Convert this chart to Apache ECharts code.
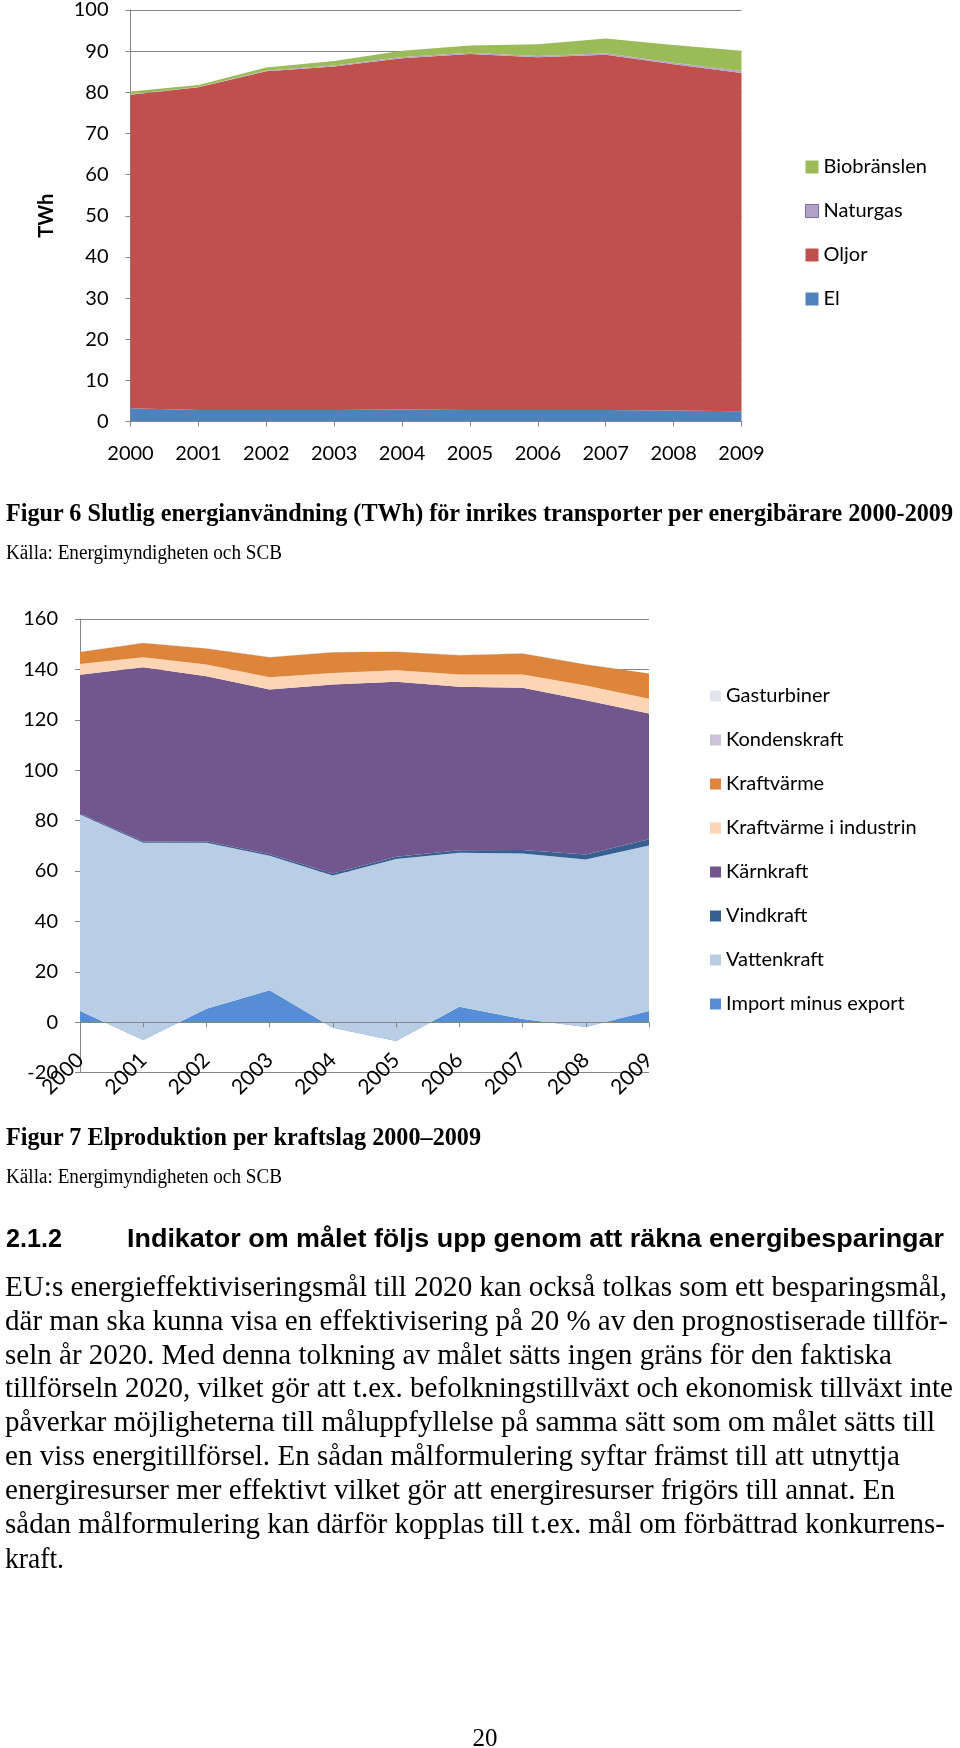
<!DOCTYPE html>
<html>
<head>
<meta charset="utf-8">
<script src="https://cdn.jsdelivr.net/npm/echarts@6/dist/echarts.min.js"></script>
<style>
  html, body { margin: 0; padding: 0; background: #fff; }
  #page { position: relative; width: 960px; height: 1748px; overflow: hidden; }
  #chart { position: absolute; left: 0; top: 0; width: 960px; height: 1748px; }
  .t { position: absolute; white-space: nowrap; line-height: 1; transform-origin: 0 0; color: #000; }
</style>
</head>
<body>
<div id="page">
  <div id="chart"></div>
</div>
<script>
// ---------- data ----------
const years = ['2000','2001','2002','2003','2004','2005','2006','2007','2008','2009'];

// Figur 6 (TWh)
const el        = [3.2, 2.8, 2.8, 2.8, 2.9, 2.8, 2.8, 2.8, 2.7, 2.5];
const oljor     = [76.2, 78.4, 82.3, 83.5, 85.4, 86.5, 85.7, 86.3, 84.1, 82.2];
const naturgas  = [0.1, 0.1, 0.2, 0.2, 0.3, 0.3, 0.3, 0.4, 0.4, 0.5];
const biobransl = [0.7, 0.5, 0.7, 1.1, 1.5, 1.8, 2.9, 3.6, 4.3, 4.9];

// Figur 7 (TWh)
const importExport = [4.4, -7.1, 5.3, 12.7, -2.2, -7.5, 6.1, 1.3, -1.9, 4.4];
const vattenkraft  = [78.0, 78.3, 65.9, 53.4, 60.4, 72.3, 61.1, 65.6, 66.5, 65.7];
const vindkraft    = [0.4, 0.5, 0.6, 0.5, 0.8, 0.9, 1.0, 1.4, 1.9, 2.5];
const karnkraft    = [55.1, 69.2, 65.5, 65.4, 75.0, 69.4, 64.9, 64.4, 61.3, 49.9];
const kvIndustri   = [4.2, 3.9, 4.6, 4.9, 4.6, 4.6, 4.9, 5.3, 5.8, 5.9];
const kraftvarme   = [4.8, 5.7, 6.4, 7.9, 8.2, 7.3, 7.6, 8.3, 8.3, 10.0];
const kondenskraft = [0.1, 0.1, 0.1, 0.1, 0.1, 0.1, 0.1, 0.1, 0.1, 0.1];
const gasturbiner  = [0.0, 0.0, 0.0, 0.0, 0.0, 0.0, 0.0, 0.0, 0.0, 0.0];

// tick labels
const yTicks1 = { min: 0, max: 100, interval: 10 };
const yTicks2 = { min: -20, max: 160, interval: 20 };

// ---------- texts ----------
const fig6Caption = 'Figur 6 Slutlig energianvändning (TWh) för inrikes transporter per energibärare 2000-2009';
const source = 'Källa: Energimyndigheten och SCB';
const fig7Caption = 'Figur 7 Elproduktion per kraftslag 2000–2009';
const headingNum = '2.1.2';
const headingText = 'Indikator om målet följs upp genom att räkna energibesparingar';
const bodyLines = [
  'EU:s energieffektiviseringsmål till 2020 kan också tolkas som ett besparingsmål,',
  'där man ska kunna visa en effektivisering på 20 % av den prognostiserade tillför-',
  'seln år 2020. Med denna tolkning av målet sätts ingen gräns för den faktiska',
  'tillförseln 2020, vilket gör att t.ex. befolkningstillväxt och ekonomisk tillväxt inte',
  'påverkar möjligheterna till måluppfyllelse på samma sätt som om målet sätts till',
  'en viss energitillförsel. En sådan målformulering syftar främst till att utnyttja',
  'energiresurser mer effektivt vilket gör att energiresurser frigörs till annat. En',
  'sådan målformulering kan därför kopplas till t.ex. mål om förbättrad konkurrens-',
  'kraft.'
];
const pageNumber = '20';

// ---------- chart ----------
const FONT = 'Lato, "Open Sans", sans-serif';
const AX = '#868686';

function area(name, data, color, grid, extra) {
  return Object.assign({
    name: name,
    type: 'line',
    xAxisIndex: grid, yAxisIndex: grid,
    data: data,
    stack: 's' + grid,
    stackStrategy: 'all',
    symbol: 'none',
    smooth: false,
    silent: true,
    lineStyle: { width: 0, color: color },
    itemStyle: { color: color },
    areaStyle: { color: color, opacity: 1 },
    emphasis: { disabled: true }
  }, extra || {});
}

const chart = echarts.init(document.getElementById('chart'), null, { renderer: 'canvas' });
const option = {
  animation: false,
  grid: [
    { left: 130.5, top: 9, width: 611, height: 412.5 },
    { left: 80, top: 619, width: 569, height: 453.6 }
  ],
  legend: [
    {
      orient: 'vertical', left: 800, top: 152, itemGap: 24,
      itemWidth: 13, itemHeight: 13, icon: 'rect',
      textStyle: { fontFamily: FONT, fontSize: 20, lineHeight: 20, color: '#000' },
      data: [
        { name: 'Biobränslen' },
        { name: 'Naturgas', itemStyle: { borderColor: '#7F6A9C', borderWidth: 1 } },
        { name: 'Oljor' },
        { name: 'El' }
      ],
      selectedMode: false
    },
    {
      orient: 'vertical', left: 705, top: 681, itemGap: 24,
      itemWidth: 11, itemHeight: 11, icon: 'rect',
      textStyle: { fontFamily: FONT, fontSize: 20, lineHeight: 20, color: '#000' },
      data: ['Gasturbiner', 'Kondenskraft', 'Kraftvärme', 'Kraftvärme i industrin',
             'Kärnkraft', 'Vindkraft', 'Vattenkraft', 'Import minus export'],
      selectedMode: false
    }
  ],
  xAxis: [
    {
      gridIndex: 0, type: 'category', data: years, boundaryGap: false, z: 5,
      axisLine: { lineStyle: { color: AX, width: 1 } },
      axisTick: { show: true, length: 5, lineStyle: { color: AX } },
      axisLabel: { fontFamily: FONT, fontSize: 20, color: '#000', margin: 22, interval: 0 },
      splitLine: { show: false }
    },
    {
      gridIndex: 1, type: 'category', data: years, boundaryGap: false, z: 5,
      axisLine: { onZero: true, lineStyle: { color: AX, width: 1 } },
      axisTick: { show: true, length: 5, lineStyle: { color: AX } },
      axisLabel: { fontFamily: FONT, fontSize: 21, color: '#000', margin: -16, rotate: 45, interval: 0 },
      splitLine: { show: false }
    }
  ],
  yAxis: [
    {
      gridIndex: 0, type: 'value', min: yTicks1.min, max: yTicks1.max, interval: yTicks1.interval,
      name: 'TWh', nameLocation: 'middle', nameRotate: 90, nameGap: 74,
      nameTextStyle: { fontFamily: FONT, fontSize: 20, fontWeight: 'bold', color: '#000' },
      axisLine: { show: true, lineStyle: { color: AX } },
      axisTick: { show: true, length: 5, lineStyle: { color: AX } },
      axisLabel: { fontFamily: FONT, fontSize: 20, color: '#000', margin: 22 },
      splitLine: { show: true, lineStyle: { color: AX, width: 1 } }
    },
    {
      gridIndex: 1, type: 'value', min: yTicks2.min, max: yTicks2.max, interval: yTicks2.interval,
      axisLine: { show: true, lineStyle: { color: AX } },
      axisTick: { show: true, length: 5, lineStyle: { color: AX } },
      axisLabel: { fontFamily: FONT, fontSize: 20, color: '#000', margin: 22 },
      splitLine: { show: true, lineStyle: { color: AX, width: 1 } }
    }
  ],
  series: [
    area('El', el, '#4F81BD', 0),
    area('Oljor', oljor, '#C0504D', 0),
    area('Naturgas', naturgas, '#B3A2C7', 0),
    area('Biobränslen', biobransl, '#9BBB59', 0),

    area('Import minus export', importExport, '#558ED5', 1),
    area('Vattenkraft', vattenkraft, '#B9CDE5', 1),
    area('Vindkraft', vindkraft, '#376092', 1),
    area('Kärnkraft', karnkraft, '#72578F', 1),
    area('Kraftvärme i industrin', kvIndustri, '#FCD5B5', 1),
    area('Kraftvärme', kraftvarme, '#DE853C', 1),
    area('Kondenskraft', kondenskraft, '#CCC1DA', 1),
    area('Gasturbiner', gasturbiner, '#E1E3EE', 1)
  ]
};
chart.setOption(option);

// ---------- page text ----------
const page = document.getElementById('page');
function place(txt, x, baseline, size, family, weight, width) {
  const d = document.createElement('div');
  d.className = 't';
  d.textContent = txt;
  d.style.left = x + 'px';
  d.style.fontSize = size + 'px';
  d.style.fontFamily = family;
  d.style.fontWeight = weight;
  d.style.top = (baseline - 0.84 * size) + 'px';
  page.appendChild(d);
  if (width) {
    const w = d.getBoundingClientRect().width;
    if (w > 0) d.style.transform = 'scaleX(' + (width / w) + ')';
  }
  return d;
}
const SERIF = '"Liberation Serif", "Times New Roman", serif';
const SANS = '"Liberation Sans", Arial, sans-serif';

place(fig6Caption, 6, 522, 26, SERIF, 'bold', 947);
place(source, 6, 559, 20, SERIF, 'normal', 276);
place(fig7Caption, 6, 1146, 26, SERIF, 'bold', 475);
place(source, 6, 1183, 20, SERIF, 'normal', 276);
place(headingNum, 6, 1247, 26, SANS, 'bold', 56);
place(headingText, 127, 1247, 26, SANS, 'bold', 817);

const bodyEnds = [947, 948, 892, 953, 935, 900, 895, 945, 64];
const bodyBase = [1296, 1330, 1364, 1397, 1431, 1465, 1499, 1533, 1568];
bodyLines.forEach((line, i) => {
  place(line, 5, bodyBase[i], 30, SERIF, 'normal', bodyEnds[i] - 5);
});
const pn = place(pageNumber, 0, 1746, 25, SERIF, 'normal');
pn.style.left = (485 - pn.getBoundingClientRect().width / 2) + 'px';
</script>
</body>
</html>
